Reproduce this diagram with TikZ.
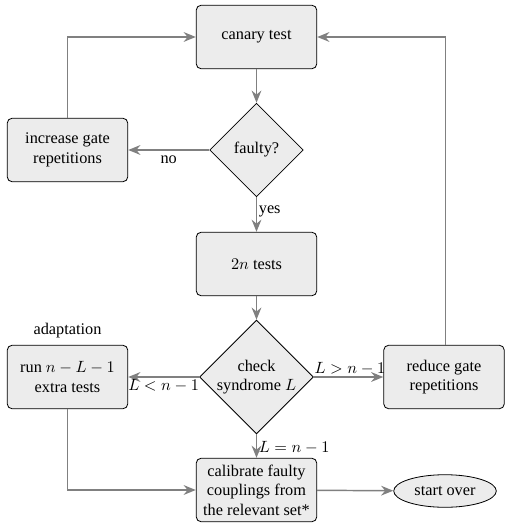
\documentclass[tikz,border=0pt]{standalone}
\usepackage{fontspec}
\setmainfont{Liberation Serif}
\usetikzlibrary{shapes.geometric,arrows.meta}
\begin{document}
\begin{tikzpicture}[x=0.614pt,y=-0.614pt,
  font=\fontsize{10}{12}\selectfont,
  procbox/.style={draw=black, line width=0.5pt, fill=gray!15, rounded corners=3pt, minimum width=74pt, minimum height=39pt, align=center, inner sep=2pt},
  decision/.style={draw=black, line width=0.5pt, fill=gray!15, diamond, inner sep=0pt, align=center},
  endnode/.style={draw=black, line width=0.5pt, fill=gray!15, ellipse, minimum width=63pt, minimum height=20pt, inner sep=1pt},
  flow/.style={draw=gray, line width=0.9pt, -{Stealth[length=7.5pt,width=6pt,inset=2.5pt]}},
  lbl/.style={inner sep=1pt}
]
\useasboundingbox (0,0) rectangle (504,525);
\node[procbox] (canary) at (256.5,37) {canary test};
\node[decision, minimum width=57.5pt, minimum height=57.5pt] (faulty) at (256.5,150) {faulty?};
\node[procbox] (incr) at (67.5,150) {increase gate\\repetitions};
\node[procbox] (tests) at (256.5,264) {$2n$ tests};
\node[decision, minimum width=69pt, minimum height=69pt] (check) at (256.5,377) {check\\syndrome $L$};
\node[procbox] (run) at (67.5,377) {run $n-L-1$\\extra tests};
\node[lbl] (adapt) at (67.5,331) {adaptation};
\node[procbox] (reduce) at (444,377) {reduce gate\\repetitions};
\node[procbox] (calib) at (256.5,490) {calibrate faulty\\couplings from\\the relevant set*};
\node[endnode] (start) at (445,491) {start over};

\coordinate (lc) at (67.5,37);
\coordinate (rc) at (445.5,37);
\coordinate (lb) at (67.5,490);

\draw[flow] (canary) -- (faulty);
\draw[flow] (faulty) -- node[lbl, below, pos=0.5, yshift=-2pt] {no} (incr);
\draw[flow] (incr.north) -- (lc) -- (canary.west);
\draw[flow] (faulty) -- node[lbl, right, pos=0.42] {yes} (tests);
\draw[flow] (tests) -- (check);
\draw[flow] (check) -- node[lbl, below, pos=0.5] {$L<n-1$} (run);
\draw[flow] (check) -- node[lbl, above, pos=0.52] {$L>n-1$} (reduce);
\draw[flow] (reduce.north -| rc) -- (rc) -- (canary.east);
\draw[flow] (check) -- node[lbl, right, pos=0.55] {$L=n-1$} (calib);
\draw[flow] (run.south) -- (lb) -- (calib.west);
\draw[flow] (calib) -- (start);
\end{tikzpicture}
\end{document}
